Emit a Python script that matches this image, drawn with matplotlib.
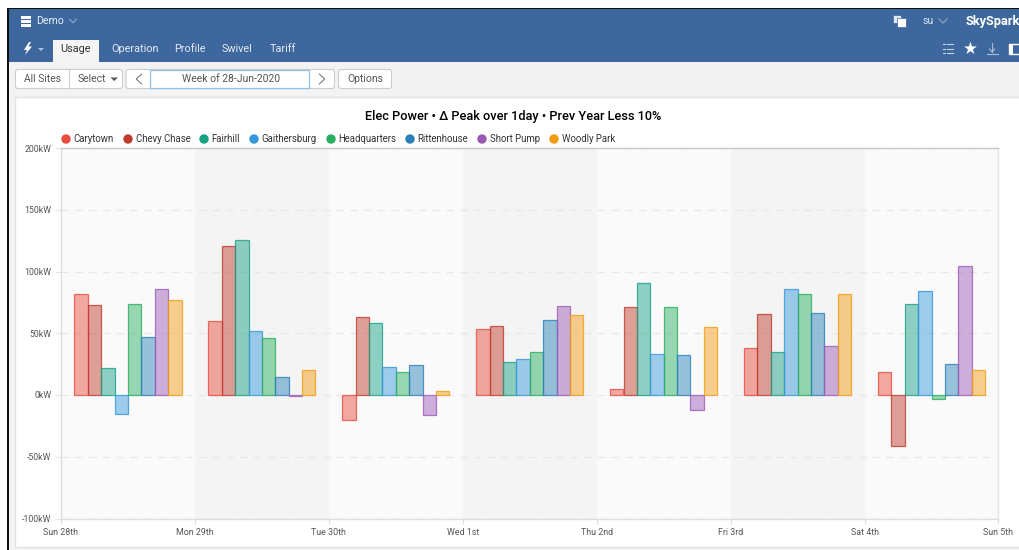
import matplotlib
matplotlib.use("Agg")
import matplotlib.pyplot as plt
from matplotlib.patches import Rectangle, Circle, FancyBboxPatch, Polygon

plt.rcParams['font.family'] = ['Roboto', 'DejaVu Sans']

title = "Elec Power \u2022 \u0394 Peak over 1day \u2022 Prev Year Less 10%"
sites = ["Carytown", "Chevy Chase", "Fairhill", "Gaithersburg", "Headquarters",
         "Rittenhouse", "Short Pump", "Woodly Park"]
colors = ["#e74c3c", "#c0392b", "#16a085", "#3498db", "#27ae60", "#2980b9", "#9b59b6", "#f39c12"]
day_labels = ["Sun 28th", "Mon 29th", "Tue 30th", "Wed 1st", "Thu 2nd", "Fri 3rd", "Sat 4th", "Sun 5th"]
y_ticks = [-100, -50, 0, 50, 100, 150, 200]

carytown = [82, 60, -20, 53.5, 4.5, 38, 19]
chevy_chase = [73, 121, 63.5, 56, 71.5, 65.5, -41]
fairhill = [22, 125.5, 58.5, 26.5, 91, 34.5, 73.5]
gaithersburg = [-15.5, 52, 23, 29, 33.5, 86, 84]
headquarters = [73.5, 46.5, 18.5, 35, 71, 82, -3]
rittenhouse = [47, 14.5, 24, 61, 32, 66.5, 25]
short_pump = [85.5, -1, -16, 72, -12, 40, 104.5]
woodly_park = [77, 20, 3, 64.5, 55, 82, 20]
series = [carytown, chevy_chase, fairhill, gaithersburg, headquarters,
          rittenhouse, short_pump, woodly_park]

W, H = 1020, 550
fig = plt.figure(figsize=(W / 100, H / 100), dpi=100, facecolor="white")

# page chrome, in pixel coordinates
bg = fig.add_axes([0, 0, 1, 1], zorder=0)
bg.set_xlim(0, W); bg.set_ylim(H, 0); bg.axis("off")
BLUE = "#3e689d"
bg.add_patch(Rectangle((9, 9), W - 9, H - 9, fc="#f3f3f3", ec="none"))
bg.add_patch(Rectangle((9, 9), W - 9, 52.5, fc=BLUE, ec="none"))
bg.add_patch(Rectangle((7, 7.5), W - 7, 1.8, fc="#111111", ec="none"))
bg.add_patch(Rectangle((7, 7.5), 2, H - 7.5, fc="#111111", ec="none"))
bg.add_patch(Rectangle((15.5, 97), W, 450, fc="white", ec="#e2e2e2", lw=1))


def t(x, y, s, size=7.6, color="#4a4a4a", ha="left", weight="normal"):
    bg.text(x, y, s, fontsize=size, color=color, ha=ha, va="center", fontweight=weight)


def chevron(x, y, w, h, color, down=True, lw=0.8):
    if down:
        bg.plot([x - w, x, x + w], [y - h, y + h, y - h], color=color, lw=lw)
    else:
        bg.plot([x + w, x - w, x + w], [y - h, y, y + h], color=color, lw=lw)


# top bar
for yy in (15.5, 19.5, 23.5):
    bg.add_patch(Rectangle((21, yy), 10.5, 3.2, fc="white", ec="none"))
t(36, 21, "Demo", 7.6, "#e8eef6")
chevron(73, 21, 3.5, 1.8, "#8fabcd")
bg.add_patch(Rectangle((893, 15), 8, 8, fc="#dfe7f1", ec=BLUE, lw=0.5))
bg.add_patch(Rectangle((897, 18), 9, 9, fc="white", ec=BLUE, lw=0.5))
t(922.5, 21, "su", 7.6, "#d5e0ee")
chevron(943, 21, 4, 2, "#8fabcd")
t(966, 21, "SkySpark", 9.2, "white", weight="bold")

# nav row
bg.add_patch(Polygon([(29, 42), (24, 50), (27, 50), (25, 55), (32, 46.5), (28.5, 46.5), (31, 42)],
                     fc="white", ec="none"))
bg.add_patch(Polygon([(38, 48), (44, 48), (41, 51)], fc="#a9bfd9", ec="none"))
bg.add_patch(Rectangle((53, 40), 46, 22, fc="#f5f5f5", ec="none"))
t(75.5, 48.5, "Usage", 7.8, "#333333", "center")
for x, s in [(111, "Operation"), (174.5, "Profile"), (222, "Swivel"), (270, "Tariff")]:
    t(x, 48.5, s, 7.8, "#e3eaf3")
for yy in (44, 48.5, 53):
    bg.plot([943.5, 945], [yy, yy], color="#c3d2e4", lw=0.8)
    bg.plot([947, 953], [yy, yy], color="#c3d2e4", lw=0.8)
bg.text(970, 49, "\u2605", fontsize=12, color="white", ha="center", va="center",
        family=["DejaVu Sans"])
bg.plot([992, 992], [43, 52], color="#a9bfd9", lw=0.8)
chevron(992, 50.5, 2.5, 1.5, "#a9bfd9")
bg.plot([987, 998], [54, 54], color="#a9bfd9", lw=0.8)
bg.add_patch(Rectangle((1009, 44), 11, 10, fc=BLUE, ec="white", lw=1))
bg.add_patch(Rectangle((1009, 44), 4.5, 10, fc="white", ec="none"))


def button(x0, x1, fc="white", ec="#cccccc"):
    bg.add_patch(FancyBboxPatch((x0 + 1.5, 71), x1 - x0 - 3, 16, boxstyle="round,pad=0,rounding_size=0",
                                fc=fc, ec=ec, lw=0.8, mutation_aspect=1))
    bg.patches[-1].set_boxstyle("round,pad=1.5,rounding_size=2.5")


button(15.5, 122.5)
bg.plot([69.5, 69.5], [70, 88], color="#cccccc", lw=0.8)
t(42.5, 79.5, "All Sites", 7.5, "#555555", "center")
t(92, 79.5, "Select", 7.5, "#555555", "center")
bg.add_patch(Polygon([(110.5, 77.5), (118, 77.5), (114.2, 81)], fc="#555555", ec="none"))
button(126, 334.5)
bg.add_patch(Rectangle((150.5, 70), 159, 18, fc="white", ec="#8cc1ea", lw=0.9))
chevron(139, 79, 2.7, 5, "#555555", down=False, lw=0.6)
chevron(322, 79, -2.7, 5, "#555555", down=False, lw=0.6)
t(231, 79.5, "Week of 28-Jun-2020", 7.5, "#555555", "center")
button(338.5, 391.5)
t(365, 79.5, "Options", 7.5, "#555555", "center")

# chart title and legend
t(513, 116.5, title, 9.2, "black", "center", "medium")
legend_x = [66, 128, 204, 254, 331, 410, 482, 554]
for x, s, c in zip(legend_x, sites, colors):
    bg.add_patch(Circle((x, 139), 4.7, fc=c, ec="none"))
    t(x + 7.7, 139.5, s, 6.9, "#333333")

# the chart
L, R, T, B = 61, 998.5, 148, 518.5
ax = fig.add_axes([L / W, 1 - B / H, (R - L) / W, (B - T) / H], zorder=1)
ax.set_xlim(0, 7)
ax.set_ylim(-100, 200)
ax.set_facecolor("#fafafa")
ax.set_axisbelow(True)
for d in (1, 3, 5):
    ax.axvspan(d, d + 1, color="#f4f4f4", lw=0, zorder=0)
ax.grid(axis="y", color="#e8e8e8", lw=0.9, ls=(0, (6, 5)), zorder=1)
n = len(series)
for i, (vals, c) in enumerate(zip(series, colors)):
    xs = [d + 0.1 + (i + 0.5) * 0.8 / n for d in range(7)]
    ax.bar(xs, vals, width=0.8 / n, color=matplotlib.colors.to_rgba(c, 0.47),
           edgecolor=matplotlib.colors.to_rgba(c, 0.8), linewidth=0.9, zorder=2)
ax.set_xticks(range(8))
ax.set_xticklabels(day_labels)
ax.set_yticks(y_ticks)
ax.set_yticklabels([f"{v}kW" for v in y_ticks])
ax.tick_params(axis="x", length=3.5, width=0.8, color="#dddddd", labelsize=6.4, labelcolor="#555555", pad=3.5)
ax.tick_params(axis="y", length=4, width=0.8, color="#e6e6e6", labelsize=6.3, labelcolor="#555555", pad=3)
for side, col in [("left", "#dddddd"), ("bottom", "#dddddd"), ("top", "#c8c8c8"), ("right", "#e4e4e4")]:
    ax.spines[side].set_color(col)
    ax.spines[side].set_linewidth(1.0)

fig.savefig("out.png", dpi=100)
